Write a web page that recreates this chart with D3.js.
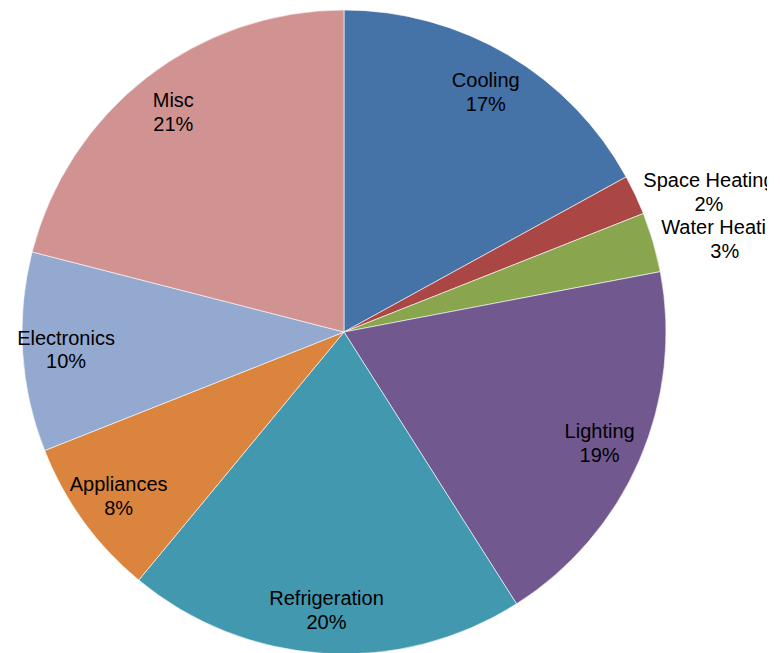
<!DOCTYPE html>
<html>
<head>
<meta charset="utf-8">
<script src="https://cdn.jsdelivr.net/npm/d3@7"></script>
<style>
  html, body { margin: 0; padding: 0; background: #fff; }
  svg text { font-family: "Liberation Sans", Arial, sans-serif; font-size: 20px; fill: #000; }
</style>
</head>
<body>
<svg id="chart" width="780" height="653"></svg>
<script>
// slice data, clockwise from 12 o'clock
const categories = ["Cooling", "Space Heating", "Water Heating", "Lighting", "Refrigeration", "Appliances", "Electronics", "Misc"];
const shares = [17, 2, 3, 19, 20, 8, 10, 21];
const colors = ["#4572A7", "#AA4643", "#89A54E", "#71588F", "#4198AF", "#DB843D", "#93A9CF", "#D19392"];
const outsideLabels = ["Space Heating", "Water Heating"];

const svg = d3.select("#chart");
const cx = 344, cy = 332, r = 322;

// right side of the plot area clips the outer labels
svg.append("defs").append("clipPath").attr("id", "plot")
  .append("rect").attr("x", 0).attr("y", 0).attr("width", 767).attr("height", 653);

const g = svg.append("g").attr("clip-path", "url(#plot)");
const pieG = g.append("g").attr("transform", `translate(${cx},${cy})`);

const data = categories.map((c, i) => ({ name: c, value: shares[i], color: colors[i] }));
const pie = d3.pie().value(d => d.value).sort(null);
const arcs = pie(data);
const arc = d3.arc().innerRadius(0).outerRadius(r);
const labelArc = d3.arc().innerRadius(r * 0.865).outerRadius(r * 0.865);

pieG.selectAll("path.slice")
  .data(arcs)
  .join("path")
  .attr("class", "slice")
  .attr("d", arc)
  .attr("fill", d => d.data.color)
  .attr("stroke", "#fff")
  .attr("stroke-width", 0.6);

const lineH = 24;
arcs.forEach(a => {
  const label = pieG.append("text").attr("text-anchor", "middle");
  const l1 = label.append("tspan").text(a.data.name);
  const l2 = label.append("tspan").text(a.data.value + "%");
  let x, y;
  if (outsideLabels.includes(a.data.name)) {
    const mid = (a.startAngle + a.endAngle) / 2;
    const ex = Math.sin(mid) * r, ey = -Math.cos(mid) * r;
    const w = Math.max(l1.node().getComputedTextLength(), l2.node().getComputedTextLength());
    x = ex + 8 + w / 2;
    y = ey - 3;
  } else {
    [x, y] = labelArc.centroid(a);
  }
  l1.attr("x", x).attr("y", y - lineH / 2).attr("dy", "0.35em");
  l2.attr("x", x).attr("y", y + lineH / 2).attr("dy", "0.35em");
});
</script>
</body>
</html>
